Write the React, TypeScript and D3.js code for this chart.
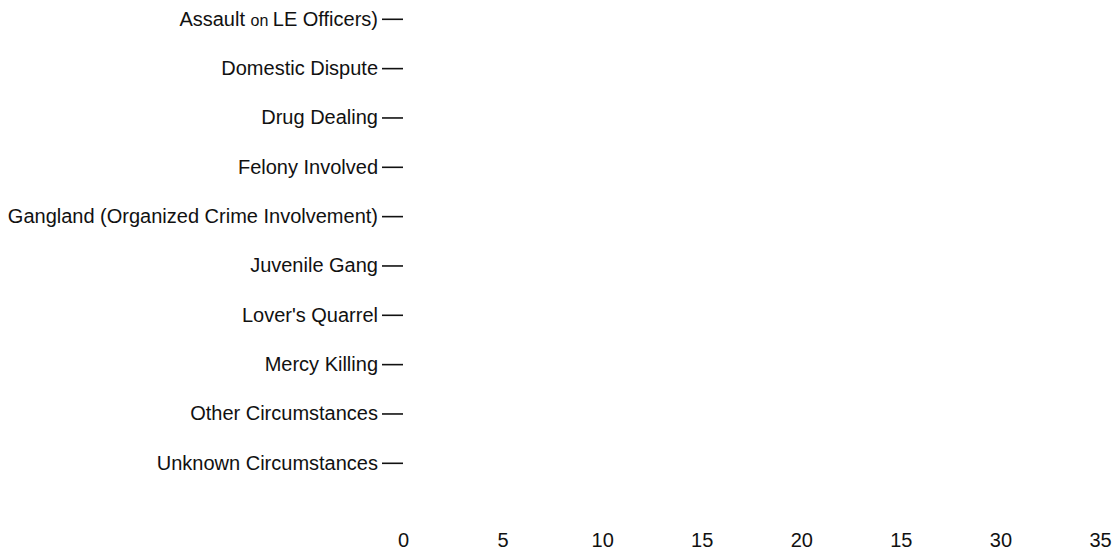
import React, { useRef, useEffect } from "react"
import * as d3 from "d3"

const categories = [
    "Assault on LE Officers)",
    "Domestic Dispute",
    "Drug Dealing",
    "Felony Involved",
    "Gangland (Organized Crime Involvement)",
    "Juvenile Gang",
    "Lover's Quarrel",
    "Mercy Killing",
    "Other Circumstances",
    "Unknown Circumstances",
]

// no bars visible in the picture
const counts = [0, 0, 0, 0, 0, 0, 0, 0, 0, 0]

const xTickValues = [0, 5, 10, 15, 20, 25, 30, 35]
const xTickLabels = ["0", "5", "10", "15", "20", "15", "30", "35"]

const App = () => {
    let element = useRef<SVGSVGElement>(null)

    useEffect(() => {
        const margin = { left: 403, right: 1100 }

        let svg = d3.select(element.current)
        svg.selectAll("*").remove()

        let x = d3.scaleLinear()
            .domain([0, 35])
            .range([margin.left, margin.right])

        let y = d3.scaleBand()
            .domain(categories)
            .range([19.3 - 24.67, 463.3 + 24.67])
            .paddingInner(0.2)
            .paddingOuter(0.1)

        // bars (zero width)
        svg.append("g")
            .selectAll("rect")
            .data(categories)
            .enter()
            .append("rect")
            .attr("x", x(0))
            .attr("y", d => y(d)!)
            .attr("height", y.bandwidth())
            .attr("width", (d, i) => x(counts[i]) - x(0))
            .style("fill", "#4e79a7")

        let yAxis = svg.append("g")
            .attr("transform", "translate(" + margin.left + ",0)")
            .call(d3.axisLeft(y).tickSize(21).tickPadding(4))
        yAxis.select(".domain").remove()
        yAxis.selectAll(".tick line")
            .attr("stroke", "#111")
            .attr("stroke-width", 1.6)
        yAxis.selectAll(".tick text")
            .attr("fill", "#111")
            .style("font-family", "'Liberation Sans', Arial, sans-serif")
            .style("font-size", "20px")
            .each(function (d: any) {
                if (d === categories[0]) {
                    const t = d3.select(this)
                    t.text(null)
                    t.append("tspan").text("Assault ")
                    t.append("tspan").style("font-size", "16px").text("on ")
                    t.append("tspan").text("LE Officers)")
                }
            })

        let xAxis = svg.append("g")
            .attr("transform", "translate(0," + 530 + ")")
            .call(
                d3.axisBottom(x)
                    .tickValues(xTickValues)
                    .tickFormat((d, i) => xTickLabels[i])
                    .tickSize(0)
                    .tickPadding(3)
            )
        xAxis.select(".domain").remove()
        xAxis.selectAll(".tick text")
            .attr("fill", "#111")
            .style("font-family", "'Liberation Sans', Arial, sans-serif")
            .style("font-size", "20px")

        return () => {
            svg.selectAll("*").remove()
        }
    })

    return (
        <svg
            ref={element}
            width={1113}
            height={552}
            style={{ position: "absolute", left: 0, top: 0, background: "#fff" }}
        ></svg>
    )
}

export default App
